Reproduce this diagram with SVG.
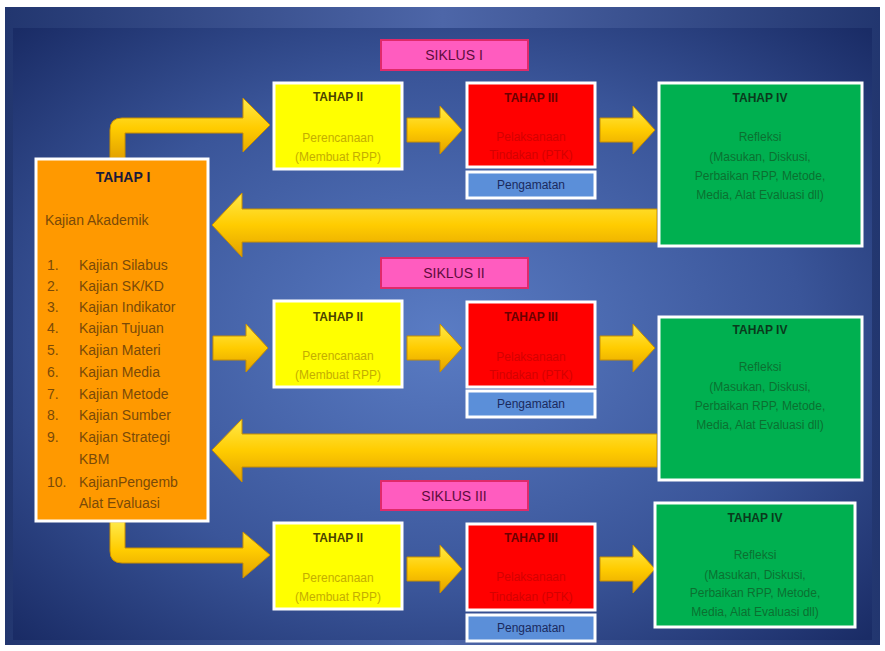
<svg xmlns="http://www.w3.org/2000/svg" width="885" height="651" viewBox="0 0 885 651">
<defs>
<linearGradient id="bgTop" x1="0" y1="0" x2="1" y2="0">
<stop offset="0" stop-color="#22366f"/><stop offset="0.5" stop-color="#4d66a8"/><stop offset="1" stop-color="#22366f"/>
</linearGradient>
<radialGradient id="bgIn" cx="0.5" cy="0.5" r="0.7">
<stop offset="0" stop-color="#5a7cc4"/><stop offset="0.6" stop-color="#3a5599"/><stop offset="1" stop-color="#1a2c66"/>
</radialGradient>
<linearGradient id="gold" x1="0" y1="0" x2="0" y2="1">
<stop offset="0" stop-color="#ffe94a"/><stop offset="0.5" stop-color="#ffcc00"/><stop offset="1" stop-color="#e3a200"/>
</linearGradient>
<path id="sarrow" d="M0,-12 H33 V-24 L55,0 L33,24 V12 H0 Z"/>
<style>
text{font-family:"Liberation Sans",Arial,sans-serif;dominant-baseline:central}
.box{stroke:#ffffff;stroke-width:3}
.yel{fill:#ffff00}.red{fill:#ff0000}.grn{fill:#00b050}.org{fill:#ff9900}.obs{fill:#5b8fd9}
.pink{fill:#ff5cbf;stroke:#e02a6a;stroke-width:2}
.arrow{fill:url(#gold);stroke:#c88f00;stroke-width:1}
.hd{font-weight:bold;font-size:12px;text-anchor:middle}
.bd{font-size:12px;text-anchor:middle}
.sik{font-size:14px;fill:#5e0c3c;text-anchor:middle}
.yhd{fill:#4a4200}.ybd{fill:#c4ae00}
.rhd{fill:#6a0000}.rbd{fill:#d40000}
.ghd{fill:#0a3a1c}.gbd{fill:#0b7030}
.ohd{fill:#1a1a3a;font-weight:bold;font-size:14px;text-anchor:middle}
.obd{fill:#7a4a08;font-size:14px}
.pg{fill:#1a2a5e;font-size:12px;text-anchor:middle}
</style>
</defs>
<rect x="0" y="0" width="885" height="651" fill="#ffffff"/>
<rect x="5" y="7" width="875" height="638" fill="url(#bgTop)"/>
<rect x="13" y="28" width="859" height="612" fill="url(#bgIn)"/>

<g id="connectors">
<path class="arrow" d="M110,158 V130 Q110,118 122,118 H243 V98 L270,125 L243,152 V133 H125 V158 Z"/>
<path class="arrow" d="M110,522 V551 Q110,563 122,563 H243 V578 L270,555 L243,532 V548 H125 V522 Z"/>
<use href="#sarrow" class="arrow" x="213" y="348"/>
<use href="#sarrow" class="arrow" x="407" y="130"/>
<use href="#sarrow" class="arrow" x="600" y="130"/>
<use href="#sarrow" class="arrow" x="407" y="348"/>
<use href="#sarrow" class="arrow" x="600" y="348"/>
<use href="#sarrow" class="arrow" x="407" y="569"/>
<use href="#sarrow" class="arrow" x="600" y="569"/>
<path class="arrow" d="M657,209 H242 V193 L212,225 L242,257 V242 H657 Z"/>
<path class="arrow" d="M657,434 H242 V419 L212,450 L242,482 V467 H657 Z"/>
</g>

<g id="siklus1"><rect class="pink" x="381" y="40" width="147" height="30"/><text class="sik" x="454" y="55">SIKLUS I</text></g>
<g id="siklus2"><rect class="pink" x="381" y="258" width="147" height="30"/><text class="sik" x="454" y="273">SIKLUS II</text></g>
<g id="siklus3"><rect class="pink" x="381" y="481" width="147" height="29"/><text class="sik" x="454" y="496">SIKLUS III</text></g>

<g id="tahap1">
<rect class="box org" x="36" y="159" width="172" height="362"/>
<text class="ohd" x="123" y="177">TAHAP I</text>
<text class="obd" x="45" y="220">Kajian Akademik</text>
<g class="obd">
<text x="47" y="265">1.</text><text x="79" y="265">Kajian Silabus</text>
<text x="47" y="286">2.</text><text x="79" y="286">Kajian SK/KD</text>
<text x="47" y="307">3.</text><text x="79" y="307">Kajian Indikator</text>
<text x="47" y="328">4.</text><text x="79" y="328">Kajian Tujuan</text>
<text x="47" y="350">5.</text><text x="79" y="350">Kajian Materi</text>
<text x="47" y="372">6.</text><text x="79" y="372">Kajian Media</text>
<text x="47" y="394">7.</text><text x="79" y="394">Kajian Metode</text>
<text x="47" y="415">8.</text><text x="79" y="415">Kajian Sumber</text>
<text x="47" y="437">9.</text><text x="79" y="437">Kajian Strategi</text>
<text x="79" y="459">KBM</text>
<text x="47" y="482">10.</text><text x="79" y="482">KajianPengemb</text>
<text x="79" y="503">Alat Evaluasi</text>
</g>
</g>

<g id="tahap2-1">
<rect class="box yel" x="274" y="83" width="128" height="86"/>
<text class="hd yhd" x="338" y="97">TAHAP II</text>
<text class="bd ybd" x="338" y="138">Perencanaan</text>
<text class="bd ybd" x="338" y="157">(Membuat RPP)</text>
</g>
<g id="tahap3-1">
<rect class="box red" x="467" y="83" width="128" height="84"/>
<text class="hd rhd" x="531" y="98">TAHAP III</text>
<text class="bd rbd" x="531" y="137">Pelaksanaan</text>
<text class="bd rbd" x="531" y="155">Tindakan (PTK)</text>
</g>
<g id="obs-1"><rect class="box obs" x="467" y="172" width="128" height="26"/><text class="pg" x="531" y="185">Pengamatan</text></g>
<g id="tahap4-1">
<rect class="box grn" x="659" y="83" width="203" height="163"/>
<text class="hd ghd" x="760" y="98">TAHAP IV</text>
<text class="bd gbd" x="760" y="137">Refleksi</text>
<text class="bd gbd" x="760" y="157">(Masukan, Diskusi,</text>
<text class="bd gbd" x="760" y="176">Perbaikan RPP, Metode,</text>
<text class="bd gbd" x="760" y="195">Media, Alat Evaluasi dll)</text>
</g>

<g id="tahap2-2">
<rect class="box yel" x="274" y="301" width="128" height="86"/>
<text class="hd yhd" x="338" y="317">TAHAP II</text>
<text class="bd ybd" x="338" y="356">Perencanaan</text>
<text class="bd ybd" x="338" y="375">(Membuat RPP)</text>
</g>
<g id="tahap3-2">
<rect class="box red" x="467" y="302" width="128" height="85"/>
<text class="hd rhd" x="531" y="317">TAHAP III</text>
<text class="bd rbd" x="531" y="357">Pelaksanaan</text>
<text class="bd rbd" x="531" y="375">Tindakan (PTK)</text>
</g>
<g id="obs-2"><rect class="box obs" x="467" y="391" width="128" height="26"/><text class="pg" x="531" y="404">Pengamatan</text></g>
<g id="tahap4-2">
<rect class="box grn" x="659" y="317" width="203" height="163"/>
<text class="hd ghd" x="760" y="330">TAHAP IV</text>
<text class="bd gbd" x="760" y="367">Refleksi</text>
<text class="bd gbd" x="760" y="387">(Masukan, Diskusi,</text>
<text class="bd gbd" x="760" y="406">Perbaikan RPP, Metode,</text>
<text class="bd gbd" x="760" y="425">Media, Alat Evaluasi dll)</text>
</g>

<g id="tahap2-3">
<rect class="box yel" x="274" y="523" width="128" height="86"/>
<text class="hd yhd" x="338" y="538">TAHAP II</text>
<text class="bd ybd" x="338" y="578">Perencanaan</text>
<text class="bd ybd" x="338" y="597">(Membuat RPP)</text>
</g>
<g id="tahap3-3">
<rect class="box red" x="467" y="524" width="128" height="86"/>
<text class="hd rhd" x="531" y="538">TAHAP III</text>
<text class="bd rbd" x="531" y="577">Pelaksanaan</text>
<text class="bd rbd" x="531" y="597">Tindakan (PTK)</text>
</g>
<g id="obs-3"><rect class="box obs" x="467" y="615" width="128" height="26"/><text class="pg" x="531" y="628">Pengamatan</text></g>
<g id="tahap4-3">
<rect class="box grn" x="655" y="503" width="200" height="124"/>
<text class="hd ghd" x="755" y="518">TAHAP IV</text>
<text class="bd gbd" x="755" y="555">Refleksi</text>
<text class="bd gbd" x="755" y="575">(Masukan, Diskusi,</text>
<text class="bd gbd" x="755" y="593">Perbaikan RPP, Metode,</text>
<text class="bd gbd" x="755" y="612">Media, Alat Evaluasi dll)</text>
</g>
</svg>
